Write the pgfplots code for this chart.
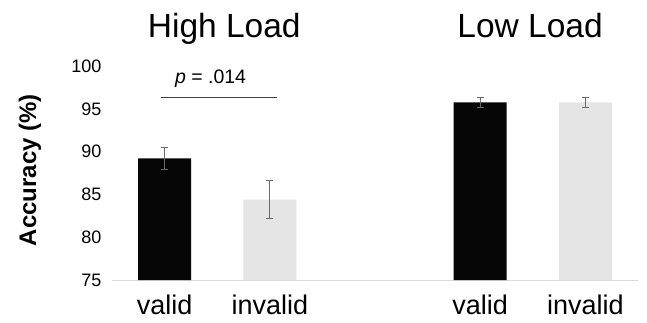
\documentclass[border=0pt]{standalone}
\usepackage{fontspec}
\setmainfont{Liberation Sans}
\usepackage{pgfplots}
\pgfplotsset{compat=1.18}
\definecolor{barblack}{HTML}{060606}
\definecolor{bargray}{HTML}{E5E5E5}
\definecolor{axisgray}{HTML}{D9D9D9}
\definecolor{errgray}{HTML}{6A6A6A}
\definecolor{siggray}{HTML}{404040}
\begin{document}
\begin{tikzpicture}[x=1pt,y=1pt]
\useasboundingbox (0,0) rectangle (647,322);
\begin{axis}[
  at={(112pt,42pt)}, anchor=south west,
  scale only axis, width=526pt, height=214pt,
  xmin=-0.5, xmax=4.5, ymin=75, ymax=100,
  clip=false,
  axis x line*=bottom, axis y line*=left,
  x axis line style={draw=axisgray, line width=1pt},
  y axis line style={draw=none},
  major tick length=0pt,
  xtick={0,1,3,4}, xticklabels={valid,invalid,valid,invalid},
  ytick={75,80,85,90,95,100},
  /pgf/number format/assume math mode=true,
  xticklabel style={font=\fontsize{27}{30}\selectfont, anchor=north, yshift=-11pt},
  yticklabel style={font=\fontsize{18}{20}\selectfont, anchor=east, xshift=-7pt},
  ylabel={\bfseries Accuracy (\%)},
  ylabel style={font=\fontsize{24}{26}\selectfont, at={(axis description cs:-0.156,0.514)}, anchor=center, rotate=0},
  ybar, bar width=53pt, bar shift=0pt,
  error bars/y dir=both, error bars/y explicit,
  error bars/error bar style={errgray, line width=0.9pt},
  error bars/error mark options={rotate=90, errgray, mark size=3.5pt, line width=0.9pt},
]
\addplot[fill=barblack, draw=none] coordinates {(0,89.2) +- (0,1.25) (3,95.75) +- (0,0.62)};
\addplot[fill=bargray, draw=none] coordinates {(1,84.4) +- (0,2.2) (4,95.75) +- (0,0.62)};
\addplot[sharp plot, no markers, siggray, line width=1pt, forget plot, error bars/y dir=none] coordinates {(-0.031,96.35) (1.071,96.35)};
\node[anchor=base, font=\fontsize{19.5}{22}\selectfont] at (axis cs:0.437,97.9) {\textit{p} = .014};
\node[anchor=base, font=\fontsize{33.5}{36}\selectfont] at (axis cs:0.567,103.35) {High Load};
\node[anchor=base, font=\fontsize{33.5}{36}\selectfont] at (axis cs:3.474,103.35) {Low Load};
\end{axis}
\end{tikzpicture}
\end{document}
